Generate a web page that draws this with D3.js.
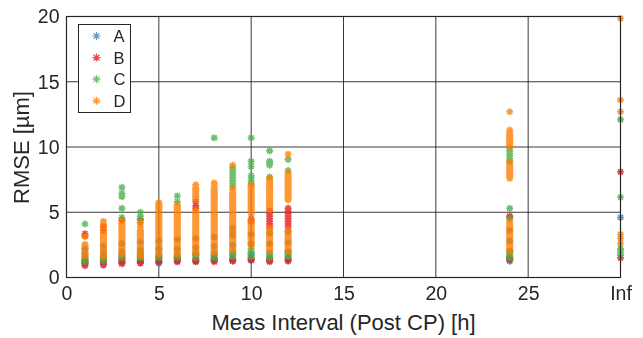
<!DOCTYPE html>
<html><head><meta charset="utf-8">
<script src="https://cdn.jsdelivr.net/npm/d3@7"></script>
<style>body{margin:0;background:#fff;} text{font-family:"Liberation Sans",Arial,Helvetica,sans-serif;fill:#262626;}</style>
</head><body><svg id="c" width="643" height="338"></svg>
<script>
const xCategories = [1,2,3,4,5,6,7,8,9,10,11,12,24,"Inf"];
const infPosition = 30;
const xTickValues = [0,5,10,15,20,25,30];
const xTickLabels = ["0","5","10","15","20","25","Inf"];
const yTickValues = [0,5,10,15,20];
const seriesNames = ["A","B","C","D"];
const seriesColors = ["#377eb8","#e41a1c","#4daf4a","#ff7f00"];

const valuesA = [
 [1.1,1.4,1.8,2.2],[1.15,1.5,1.9,2.4],[1.2,1.6,2.0,2.6],[1.2,1.6,2.1,2.7],[1.1,1.2,1.6,2.2,2.8],
 [1.25,1.6,2.2,2.9],[1.25,1.7,2.3,3.0],[1.3,1.7,2.4,3.1],[1.3,1.8,2.5,3.2],[1.35,1.8,2.6,3.3],
 [1.3,1.9,2.6,3.4],[1.25,1.9,2.7,3.5],[1.25,1.4,2.0,2.8,3.6],[4.6]
];
const valuesB = [
 [0.9,1.0,1.1,1.2,1.3,3.2,3.35],[0.95,1.05,1.15,1.25,3.6,3.9],[1.05,1.15,1.25,1.35,1.45,4.4],
 [1.1,1.2,1.3,1.4,4.4],[1.2,1.3,1.4],[1.2,1.3,1.4,1.5],[1.2,1.3,1.4,5.3,5.5,5.8],[1.2,1.3,1.4,1.5],
 [1.25,1.35,1.45],[1.3,1.4,1.5,4.3,4.5],[1.2,1.3,1.4,1.5,3.9,4.1,4.3,4.5,4.7,4.9,5.1],
 [1.3,1.4,1.5,3.9,4.1,4.3,4.5,4.7,4.9,5.1,5.3],[1.35,1.45,1.55,4.6,4.7],[1.5,8.1]
];
const valuesC = [
 [1.2,1.3,1.4,1.5,1.6,4.1],[1.25,1.35,1.45,1.55,1.65],[1.5,1.6,1.7,1.8,4.6,5.3,6.2,6.45,6.9],
 [1.5,1.6,1.7,1.8,1.9,4.2,4.5,4.7,5.0],[1.5,1.6,1.7,1.8],[1.5,1.6,1.7,1.8,5.8,6.25],
 [1.5,1.6,1.7,1.8,1.9],[1.5,1.6,1.7,1.8,1.9,10.7],
 [1.6,1.7,1.8,1.9,2.0,3.5,3.8,7.0,7.2,7.4,7.6,7.8,8.0,8.2,8.4],
 [1.6,1.7,1.8,1.9,2.0,2.2,7.2,7.4,7.6,7.8,8.5,8.9,10.7],[1.5,1.6,1.7,1.8,7.7,8.6,8.8,8.9,9.7],
 [1.6,1.7,1.8,1.9,2.0,8.2,9.05],[1.5,1.6,1.7,1.8,1.9,2.0,4.5,5.3,8.9,9.1,9.3,9.5,9.7,9.9],
 [1.7,1.9,2.1,2.2,6.15,12.1]
];
const valuesD = [
 [1.65,1.75,1.85,1.95,2.05,2.15,2.25,2.35,2.45,2.55,3.15],
 [1.6,1.7,1.8,1.9,2.0,2.1,2.2,2.3,2.4,2.5,2.6,2.7,2.8,2.9,3.0,3.1,3.2,3.3,3.4,3.65,3.9,4.1,4.3],
 [1.75,1.85,1.95,2.05,2.15,2.25,2.35,2.45,2.55,2.65,2.75,2.85,2.95,3.05,3.15,3.25,3.35,3.45,3.55,3.65,3.75,3.85,3.95,4.05,4.15,4.35],
 [1.65,1.75,1.85,1.95,2.05,2.15,2.25,2.35,2.45,2.55,2.65,2.75,2.85,2.95,3.05,3.15,3.25,3.35,3.45,3.55,3.65,3.9,4.2],
 [1.75,1.85,1.95,2.05,2.15,2.25,2.35,2.45,2.55,2.65,2.75,2.85,2.95,3.05,3.15,3.25,3.35,3.45,3.55,3.65,3.75,3.85,3.95,4.05,4.15,4.25,4.35,4.45,4.55,4.65,4.75,4.85,4.95,5.05,5.15,5.25,5.35,5.45,5.55,5.65,5.75],
 [1.75,1.85,1.95,2.05,2.15,2.25,2.35,2.45,2.55,2.65,2.75,2.85,2.95,3.05,3.15,3.25,3.35,3.45,3.55,3.65,3.75,3.85,3.95,4.05,4.15,4.25,4.35,4.45,4.55,4.65,4.75,4.85,4.95,5.05,5.15,5.25,5.35,5.45,5.55],
 [1.8,1.9,2.0,2.1,2.2,2.3,2.4,2.5,2.6,2.7,2.8,2.9,3.0,3.1,3.2,3.3,3.4,3.5,3.6,3.7,3.8,3.9,4.0,4.1,4.2,4.3,4.4,4.5,4.6,4.7,4.8,4.9,5.0,5.15,5.95,6.1,6.2,6.3,6.45,6.6,6.7,6.8,6.9,7.1],
 [1.9,2.0,2.1,2.2,2.3,2.4,2.5,2.6,2.7,2.8,2.9,3.0,3.1,3.2,3.3,3.4,3.5,3.6,3.7,3.8,3.9,4.0,4.1,4.2,4.3,4.4,4.5,4.6,4.7,4.8,4.9,5.0,5.1,5.2,5.3,5.4,5.5,5.6,5.7,5.8,5.9,6.0,6.1,6.2,6.3,6.4,6.5,6.6,6.7,6.85,7.05,7.25],
 [2.1,2.2,2.3,2.4,2.5,2.6,2.7,2.8,2.9,3.0,3.1,3.2,3.3,3.4,3.5,3.6,3.7,3.8,3.9,4.0,4.1,4.2,4.3,4.4,4.5,4.6,4.7,4.8,4.9,5.0,5.1,5.2,5.3,5.4,5.5,5.6,5.7,5.8,5.9,6.0,6.1,6.2,6.3,6.4,6.5,6.65,6.8,8.6],
 [2.4,2.5,2.6,2.7,2.8,2.9,3.0,3.1,3.2,3.3,3.4,3.5,3.6,3.7,3.8,3.9,4.0,4.1,4.2,4.3,4.4,4.9,5.0,5.1,5.2,5.3,5.4,5.5,5.6,5.7,5.8,5.9,6.0,6.1,6.2,6.3,6.4,6.5,6.6,6.7,6.8,6.9,7.0,7.1],
 [2.0,2.1,2.2,2.3,2.4,2.5,2.6,2.7,2.8,2.9,3.0,3.1,3.2,3.3,3.4,3.5,3.6,3.7,3.8,5.2,5.3,5.4,5.5,5.6,5.7,5.8,5.9,6.0,6.1,6.2,6.3,6.4,6.5,6.6,6.7,6.8,6.9,7.0,7.1,7.2,7.3,7.4,7.5,7.6],
 [2.0,2.1,2.2,2.3,2.4,2.5,2.6,2.7,2.8,2.9,3.0,3.1,3.2,3.3,3.45,3.55,3.65,5.95,6.05,6.15,6.25,6.35,6.45,6.55,6.65,6.75,6.85,6.95,7.05,7.15,7.25,7.35,7.45,7.55,7.65,7.75,7.85,8.0,9.45],
 [2.0,2.1,2.2,2.3,2.4,2.5,2.6,2.7,2.8,2.9,3.0,3.1,3.2,3.3,3.4,3.5,3.6,3.7,3.8,3.9,4.0,4.15,4.3,7.6,7.7,7.8,7.9,8.0,8.1,8.2,8.3,8.4,8.5,8.6,8.75,8.9,10.0,10.1,10.2,10.3,10.4,10.5,10.6,10.7,10.8,10.9,11.0,11.15,11.3,12.7],
 [2.6,3.0,3.3,12.7,13.6,19.85]
];
const allSeries = [valuesA, valuesB, valuesC, valuesD];

const svg = d3.select("#c");
const x = d3.scaleLinear().domain([0,30]).range([66.5,620.5]);
const y = d3.scaleLinear().domain([0,20]).range([277.5,16.5]);
const xPos = c => c === "Inf" ? infPosition : c;
const gridCol = "#262626";

const g = svg.append("g");
g.selectAll(".vg").data(xTickValues.slice(1,-1)).enter().append("line")
  .attr("x1",d=>x(d)).attr("x2",d=>x(d)).attr("y1",y(0)).attr("y2",y(20))
  .attr("stroke",gridCol).attr("stroke-width",1).attr("opacity",0.9);
g.selectAll(".hg").data(yTickValues.slice(1,-1)).enter().append("line")
  .attr("y1",d=>y(d)).attr("y2",d=>y(d)).attr("x1",x(0)).attr("x2",x(30))
  .attr("stroke",gridCol).attr("stroke-width",1).attr("opacity",0.9);

const ast = r => `M${-r},0H${r}M0,${-r}V${r}M${-r*0.72},${-r*0.72}L${r*0.72},${r*0.72}M${-r*0.72},${r*0.72}L${r*0.72},${-r*0.72}`;
allSeries.forEach((ser, si) => {
  const pts = [];
  ser.forEach((vals, ci) => vals.forEach(v => pts.push([xPos(xCategories[ci]), v])));
  svg.append("g").attr("opacity",0.8).selectAll("path").data(pts).enter().append("path")
    .attr("d", ast(3.5))
    .attr("transform", d => `translate(${x(d[0])},${y(d[1])})`)
    .attr("stroke", seriesColors[si]).attr("stroke-width",1.6).attr("fill","none");
});

svg.append("rect").attr("x",x(0)).attr("y",y(20)).attr("width",x(30)-x(0)).attr("height",y(0)-y(20))
  .attr("fill","none").attr("stroke","#262626").attr("stroke-width",1.2);

const xAxis = d3.axisBottom(x).tickValues(xTickValues).tickFormat((d,i)=>xTickLabels[i]).tickSize(0).tickPadding(9);
const xa = svg.append("g").attr("transform",`translate(0,${y(0)})`).call(xAxis);
xa.select(".domain").remove();
xa.selectAll("text").attr("font-size","19.5px").attr("font-family","Liberation Sans, Arial, sans-serif").attr("fill","#262626");
const yAxis = d3.axisLeft(y).tickValues(yTickValues).tickSize(0).tickPadding(7);
const ya = svg.append("g").attr("transform",`translate(${x(0)},0)`).call(yAxis);
ya.select(".domain").remove();
ya.selectAll("text").attr("font-size","19.5px").attr("font-family","Liberation Sans, Arial, sans-serif").attr("fill","#262626");

svg.append("text").attr("x",343.5).attr("y",330).attr("text-anchor","middle").attr("font-size","22px").text("Meas Interval (Post CP) [h]");
svg.append("text").attr("transform","translate(29,147.5) rotate(-90)").attr("text-anchor","middle").attr("font-size","22px").text("RMSE [µm]");

const lg = svg.append("g");
lg.append("rect").attr("x",78.5).attr("y",24.5).attr("width",52).attr("height",88).attr("fill","#fff").attr("stroke","#262626").attr("stroke-width",1);
seriesNames.forEach((n,i) => {
  const yy = 36 + i*21.6;
  lg.append("path").attr("d",ast(4)).attr("transform",`translate(96.5,${yy})`).attr("stroke",seriesColors[i]).attr("stroke-width",1.2).attr("fill","none").attr("opacity",0.8);
  lg.append("text").attr("x",113.5).attr("y",yy).attr("dy","0.36em").attr("font-size","16.5px").text(n);
});
</script></body></html>
